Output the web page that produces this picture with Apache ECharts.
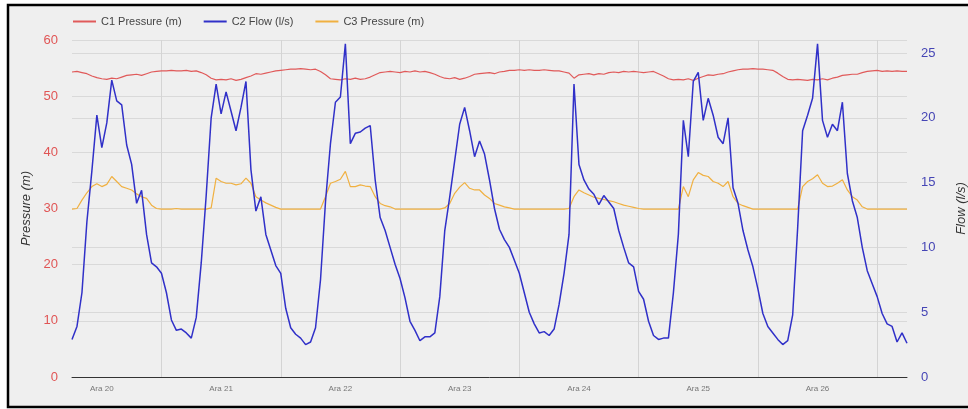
<!DOCTYPE html>
<html>
<head>
<meta charset="utf-8">
<script src="https://cdn.jsdelivr.net/npm/echarts@6/dist/echarts.min.js"></script>
<style>
html,body{margin:0;padding:0;background:#fff;}
#c{width:968px;height:409px;}
</style>
</head>
<body>
<div id="c"></div>
<script>
// hours since Ara 20 00:00, hourly samples
var hours = [];
for (var h = 6; h <= 174; h++) hours.push(h);

var dayLabels = ['Ara 20','Ara 21','Ara 22','Ara 23','Ara 24','Ara 25','Ara 26','Ara 27'];

// C1 Pressure (m) - left axis
var c1Pressure = [
 54.3,54.4,54.2,54.0,53.6,53.3,53.1,53.0,53.2,53.1,53.4,53.7,53.8,53.9,53.7,54.0,54.3,54.4,
 54.5,54.5,54.6,54.5,54.5,54.6,54.4,54.5,54.2,53.8,53.2,52.9,53.0,52.9,53.1,52.8,53.0,53.3,
 53.6,54.0,53.9,54.1,54.3,54.5,54.6,54.7,54.8,54.8,54.9,54.8,54.7,54.8,54.4,53.8,53.1,53.0,
 52.9,53.1,53.0,53.2,53.0,53.1,53.4,53.8,54.2,54.3,54.4,54.3,54.2,54.4,54.3,54.5,54.3,54.4,
 54.2,53.9,53.5,53.2,53.1,53.3,53.0,53.2,53.5,53.9,54.0,54.1,54.2,54.0,54.3,54.4,54.6,54.6,
 54.7,54.6,54.7,54.6,54.6,54.7,54.6,54.5,54.5,54.3,54.1,53.2,53.8,53.9,54.0,53.8,54.0,53.9,
 54.2,54.3,54.2,54.4,54.3,54.4,54.3,54.2,54.3,54.4,54.0,53.6,53.1,52.9,53.0,52.9,53.1,52.8,
 53.2,53.5,53.8,53.7,53.9,54.0,54.3,54.5,54.7,54.8,54.8,54.9,54.8,54.8,54.7,54.6,54.1,53.5,
 53.0,52.9,53.0,52.9,52.8,53.0,52.9,53.1,52.9,53.2,53.4,53.7,53.8,53.9,53.9,54.2,54.4,54.5,
 54.6,54.4,54.5,54.4,54.5,54.4,54.4
];

// C2 Flow (l/s) - right axis
var c2Flow = [
 2.9,3.9,6.5,12.0,15.9,20.2,17.7,19.6,22.9,21.3,21.0,17.9,16.4,13.4,14.4,11.0,8.8,8.5,
 8.0,6.5,4.4,3.6,3.7,3.4,3.0,4.6,8.8,14.0,20.0,22.6,20.3,22.0,20.5,19.0,20.8,22.8,
 16.0,12.8,13.9,11.0,9.8,8.6,8.0,5.3,3.8,3.3,3.0,2.5,2.7,3.8,7.5,13.5,18.0,21.2,
 21.6,25.7,18.0,18.8,18.9,19.2,19.4,15.2,12.3,11.3,10.0,8.7,7.6,6.1,4.3,3.6,2.8,3.1,
 3.1,3.4,6.2,11.3,13.9,16.7,19.5,20.8,19.0,17.0,18.2,17.2,15.2,13.0,11.4,10.6,10.0,9.0,
 8.0,6.5,5.0,4.1,3.4,3.5,3.2,3.7,5.6,8.0,11.0,22.6,16.4,15.2,14.5,14.1,13.3,14.0,
 13.5,13.0,11.3,10.0,8.8,8.5,6.6,6.0,4.3,3.2,2.9,3.0,3.0,6.5,11.0,19.8,17.0,22.8,
 23.5,19.8,21.5,20.2,18.5,18.0,20.0,14.6,13.4,11.3,9.8,8.5,6.8,4.9,3.9,3.4,2.9,2.5,
 2.8,4.8,11.5,19.0,20.2,21.5,25.7,19.8,18.5,19.5,19.0,21.2,15.7,13.6,12.3,10.0,8.2,7.2,
 6.2,4.9,4.1,3.9,2.7,3.4,2.6
];

// C3 Pressure (m) - left axis
var c3Pressure = [
 29.9,30.0,31.5,32.8,33.9,34.4,33.9,34.3,35.7,34.8,33.9,33.6,33.3,32.6,32.1,31.8,30.6,30.0,
 29.9,29.9,29.9,30.0,29.9,29.9,29.9,29.9,29.9,29.9,30.1,35.4,34.8,34.5,34.5,34.2,34.4,35.4,
 34.5,32.1,31.5,31.0,30.6,30.2,29.9,29.9,29.9,29.9,29.9,29.9,29.9,29.9,29.9,32.1,34.5,34.8,
 35.2,36.6,33.9,33.9,34.2,34.0,33.9,32.1,30.9,30.5,30.3,29.9,29.9,29.9,29.9,29.9,29.9,29.9,
 29.9,29.9,29.9,30.1,30.9,32.7,33.8,34.6,33.6,33.3,33.3,32.4,31.8,30.9,30.6,30.3,30.1,29.9,
 29.9,29.9,29.9,29.9,29.9,29.9,29.9,29.9,29.9,29.9,30.0,32.1,33.3,32.8,32.4,32.0,31.8,31.6,
 31.4,31.2,30.9,30.6,30.4,30.2,30.0,29.9,29.9,29.9,29.9,29.9,29.9,29.9,29.9,33.9,32.1,35.1,
 36.4,35.9,35.7,34.8,34.5,33.9,34.8,32.1,30.9,30.5,30.2,29.9,29.9,29.9,29.9,29.9,29.9,29.9,
 29.9,29.9,29.9,33.9,34.8,35.3,36.0,34.5,33.9,34.0,34.5,35.1,33.3,32.1,31.5,30.3,29.9,29.9,
 29.9,29.9,29.9,29.9,29.9,29.9,29.9
];

var chart = echarts.init(document.getElementById('c'), null, {renderer: 'canvas'});
var gridColor = '#d9d9d9';
chart.setOption({
  backgroundColor: '#ffffff',
  animation: false,
  textStyle: {fontFamily: 'Arial, Liberation Sans, sans-serif'},
  graphic: {
    elements: [{
      type: 'rect', z: -100, silent: true,
      shape: {x: 8, y: 5, width: 1200, height: 402},
      style: {fill: '#efefef', stroke: '#000000', lineWidth: 2.5}
    }]
  },
  legend: {
    left: 68, top: 11,
    itemWidth: 23, itemHeight: 2, itemGap: 22,
    icon: 'rect',
    textStyle: {fontSize: 11, color: '#444'},
    data: ['C1 Pressure (m)', 'C2 Flow (l/s)', 'C3 Pressure (m)']
  },
  grid: {left: 72, right: 61, top: 40, bottom: 32, containLabel: false, outerBoundsMode: 'none'},
  xAxis: {
    type: 'category',
    data: hours,
    boundaryGap: false,
    axisLine: {lineStyle: {color: '#333', width: 1}},
    axisTick: {show: false},
    axisLabel: {
      interval: function (i, v) { return (+v) % 24 === 12; },
      formatter: function (v) { return dayLabels[Math.floor((+v) / 24)]; },
      fontSize: 8, color: '#777', margin: 8
    },
    splitLine: {
      show: true,
      interval: function (i, v) { return (+v) % 24 === 0; },
      lineStyle: {color: '#d4d4d4', width: 1}
    }
  },
  yAxis: [{
    type: 'value', min: 0, max: 60, interval: 10,
    name: 'Pressure (m)', nameLocation: 'middle', nameGap: 38, nameRotate: 90,
    nameTextStyle: {fontStyle: 'italic', fontSize: 13, color: '#333'},
    axisLine: {show: false}, axisTick: {show: false},
    axisLabel: {color: '#e05555', fontSize: 13, margin: 14},
    splitLine: {lineStyle: {color: gridColor, width: 1}}
  }, {
    type: 'value', min: 0, max: 26, interval: 5,
    name: 'Flow (l/s)', nameLocation: 'middle', nameGap: 48, nameRotate: 90,
    nameTextStyle: {fontStyle: 'italic', fontSize: 13, color: '#333'},
    axisLine: {show: false}, axisTick: {show: false},
    axisLabel: {color: '#4545b5', fontSize: 13, margin: 14, showMaxLabel: false},
    splitLine: {lineStyle: {color: gridColor, width: 1}}
  }],
  series: [{
    name: 'C1 Pressure (m)', type: 'line', yAxisIndex: 0, data: c1Pressure,
    showSymbol: false, symbol: 'none', color: '#e05a5a',
    lineStyle: {width: 1.2, color: '#e05a5a'}, z: 3
  }, {
    name: 'C2 Flow (l/s)', type: 'line', yAxisIndex: 1, data: c2Flow,
    showSymbol: false, symbol: 'none', color: '#3030c8',
    lineStyle: {width: 1.5, color: '#3030c8'}, z: 4
  }, {
    name: 'C3 Pressure (m)', type: 'line', yAxisIndex: 0, data: c3Pressure,
    showSymbol: false, symbol: 'none', color: '#f0b040',
    lineStyle: {width: 1.2, color: '#f0b040'}, z: 2
  }]
});
</script>
</body>
</html>
